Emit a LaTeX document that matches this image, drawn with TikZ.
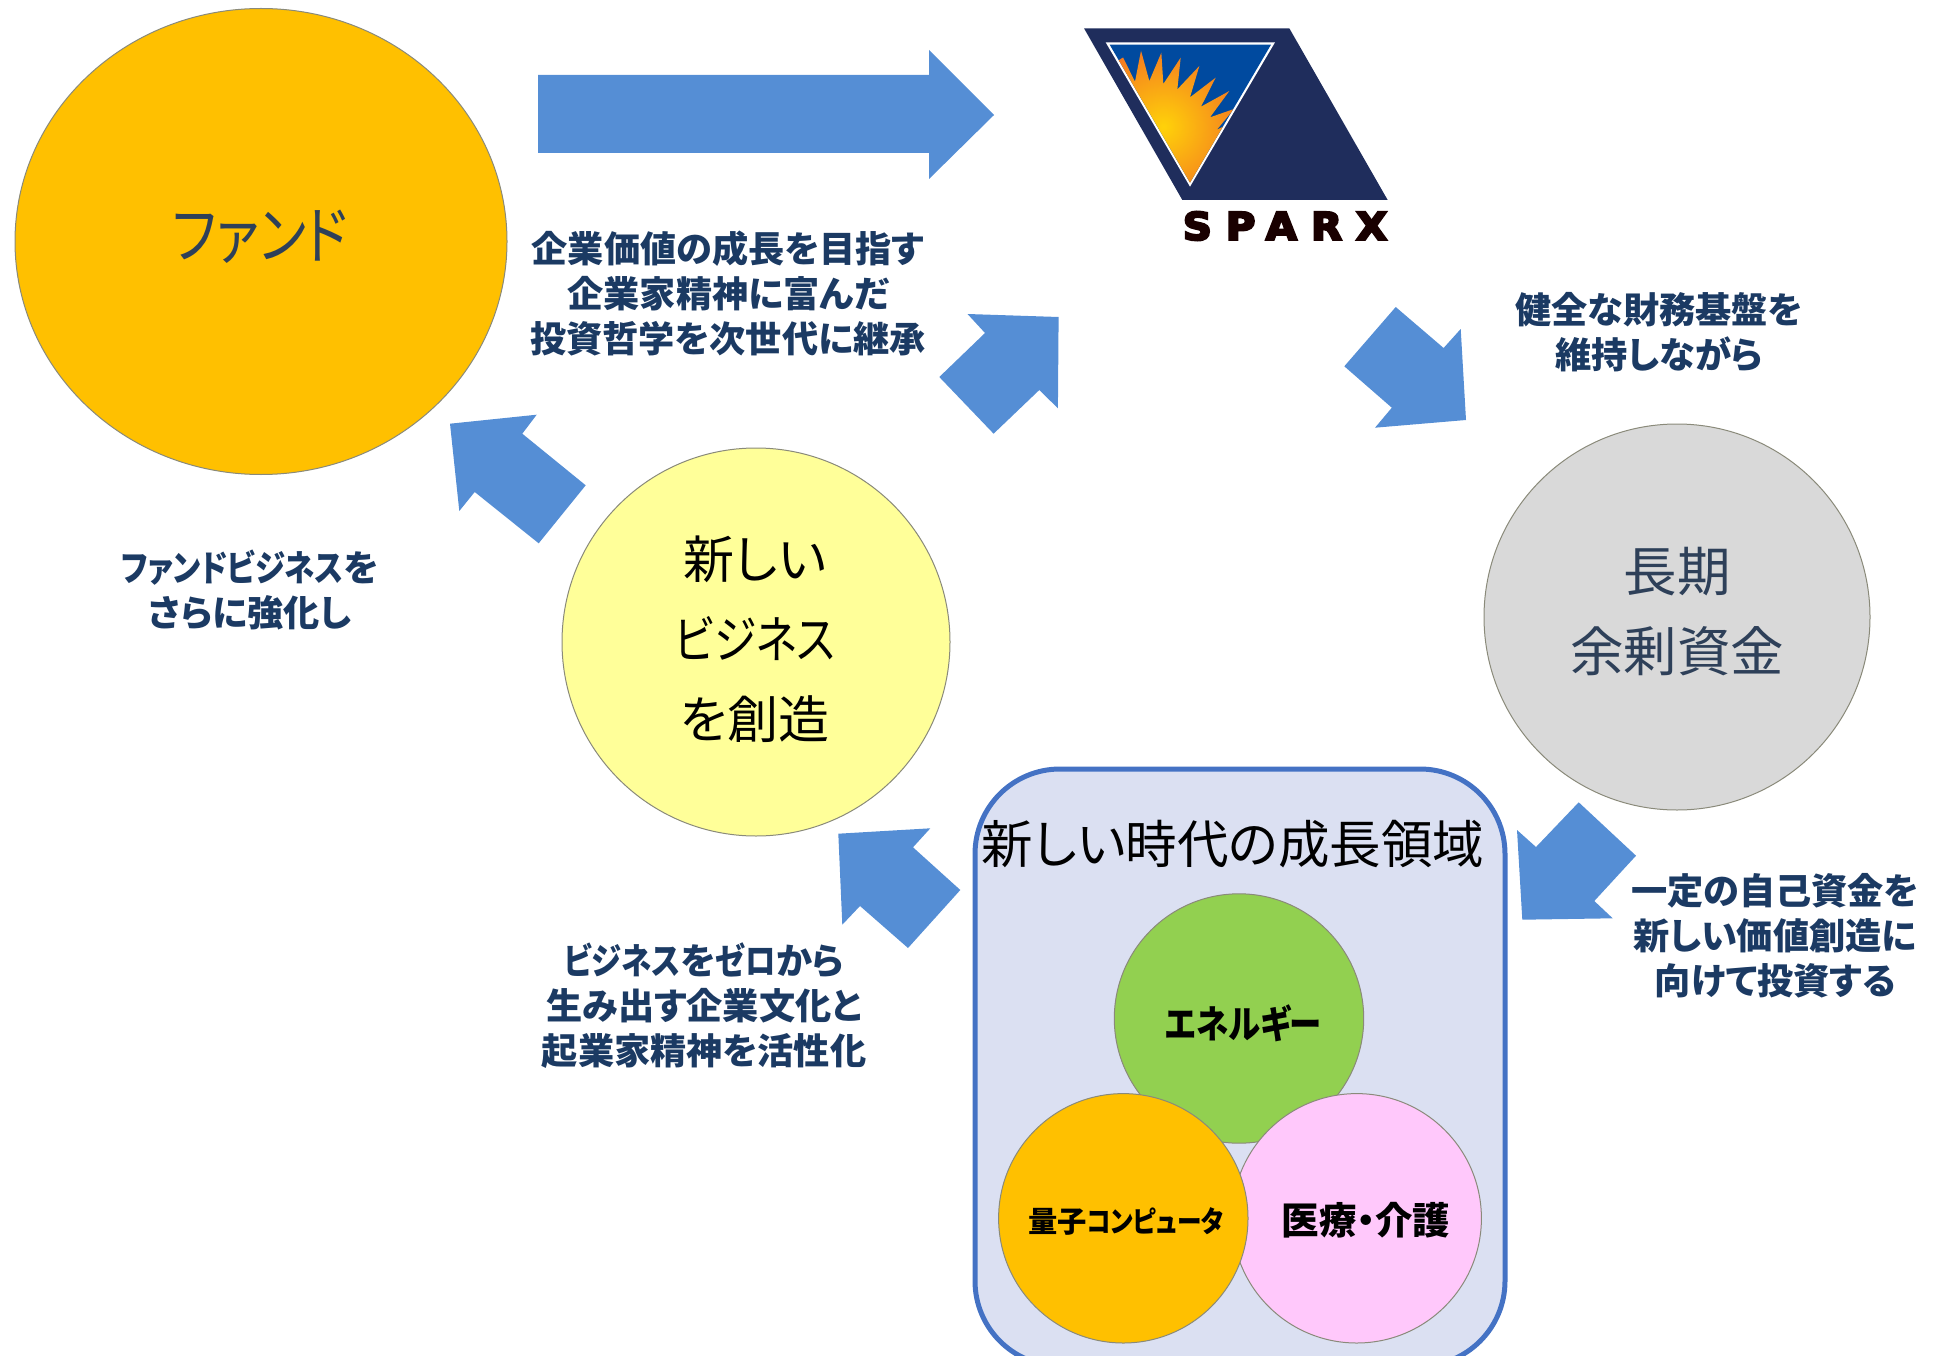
\documentclass[tikz,border=0pt]{standalone}
\usepackage{fontspec}
\newfontfamily\jp[RawFeature=+palt]{Noto Sans CJK JP}
\newfontfamily\jpn[RawFeature=+palt,FakeStretch=0.84]{Noto Sans CJK JP}
\newfontfamily\sparxfont[LetterSpace=37,FakeBold=6,FakeStretch=1.06]{DejaVu Sans Bold}
\definecolor{arrowblue}{HTML}{558ED5}
\definecolor{labelblue}{HTML}{1B3A63}
\definecolor{slate}{HTML}{2E4059}
\definecolor{logonavy}{HTML}{1F2D5C}
\definecolor{logoblue}{HTML}{004A9F}
\definecolor{boxfill}{HTML}{DBE0F2}
\definecolor{boxline}{HTML}{4472C4}
\definecolor{fundc}{HTML}{FFC000}
\definecolor{newc}{HTML}{FFFF99}
\definecolor{greyc}{HTML}{D9D9D9}
\definecolor{greenc}{HTML}{92D050}
\definecolor{pinkc}{HTML}{FFC8FB}
\definecolor{edgec}{HTML}{8A8A7A}
\definecolor{sunin}{HTML}{FFD209}
\definecolor{sunout}{HTML}{F47B20}
\newcommand{\fs}[2]{\fontsize{#1}{#2}\selectfont}
\newcommand{\kt}[1]{{\jpn #1}}
\tikzset{
  blockarrow/.style={fill=arrowblue,draw=none},
  bubble/.style={draw=edgec,line width=1pt},
  lab/.style={inner sep=0,align=center,text=labelblue,font=\jp\bfseries\fs{36.2}{45}},
  midtext/.style={inner sep=0,align=center,font=\jp},
  boldtext/.style={inner sep=0,align=center,font=\jp\bfseries},
}
\begin{document}
\begin{tikzpicture}[x=1pt,y=-1pt]
\useasboundingbox (0,0) rectangle (1937,1356);
\clip (0,0) rectangle (1937,1356);
% bubbles
\draw[bubble,fill=fundc] (261,241.5) ellipse [x radius=246,y radius=233];
\draw[bubble,fill=newc] (756,642) circle (194);
\draw[bubble,fill=greyc] (1677,617) circle (193);
% group box
\draw[draw=boxline,fill=boxfill,line width=5pt,rounded corners=85pt] (975,769) rectangle (1505,1366);
\draw[bubble,fill=greenc] (1239,1018.5) circle (124.7);
\draw[bubble,fill=pinkc] (1356.7,1218.3) circle (124.7);
\draw[bubble,fill=fundc] (1123.3,1218.3) circle (124.7);
% block arrows
\fill[blockarrow] (538,75) -- (929,75) -- (929,50) -- (994,115) -- (929,179) -- (929,153) -- (538,153) -- cycle;
\fill[blockarrow] (967.5,314) -- (1058.6,317) -- (1057.9,408.3) -- (1039.3,390) -- (993.6,433.7) -- (939.3,377) -- (985,333) -- cycle;
\fill[blockarrow] (1395.7,307) -- (1443.6,348) -- (1460.7,329) -- (1466,420) -- (1375,427.7) -- (1391.8,407.7) -- (1344.3,366.3) -- cycle;
\fill[blockarrow] (450,423.7) -- (536.7,414.7) -- (522.3,433.7) -- (585.7,485.3) -- (538.7,543.3) -- (474.7,492) -- (459.3,511) -- cycle;
\fill[blockarrow] (838.3,833.7) -- (930.3,828.3) -- (913,847.3) -- (960.3,890) -- (908,948) -- (860,906) -- (842.3,924.7) -- cycle;
\fill[blockarrow] (1517,830) -- (1536,847) -- (1578.7,802.3) -- (1636,855.7) -- (1594.3,901) -- (1612.7,918.3) -- (1522.3,919.7) -- cycle;
% logo
\begin{scope}[shift={(1060,10)},x=0.33333pt,y=-0.33333pt]
\fill[logonavy] (72,55) -- (688,55) -- (983,570) -- (367,570) -- cycle;
\fill[white] (137,97) -- (645,97) -- (390,530) -- cycle;
\fill[logoblue] (149,104) -- (633,104) -- (390,518) -- cycle;
\begin{scope}
\clip (149,104) -- (633,104) -- (390,518) -- cycle;
\clip (165,120) -- (182,128) -- (225,215) -- (243,122) -- (268,213) -- (304,128) -- (310,222) -- (362,143) -- (352,238) -- (418,168) -- (390,262) -- (467,203) -- (423,290) -- (508,243) -- (450,322) -- (522,297) -- (470,360) -- (498,345) -- (390,530) -- (150,110) -- cycle;
\shade[inner color=sunin,outer color=sunout] (310,350) circle (240);
\end{scope}
\end{scope}
\node[inner sep=0,anchor=center,text=black!90!red,font=\sparxfont\fs{38}{38}] (sparx) at (1285,226) {SPARX};
% bubble texts
\node[midtext,text=slate,font=\jpn\fs{63}{63}] (fund) at (260,237) {ファンド};
\node[midtext,text=black,font=\jp\fs{51}{80}] (newbiz) at (755,639) {新しい\\\kt{ビジネス}\\を創造};
\node[midtext,text=slate,font=\jp\fs{53.5}{80}] (longterm) at (1677,612) {長期\\余剰資金};
\node[midtext,text=black,font=\jp\fs{51.5}{52}] (areatitle) at (1233,844) {新しい時代の成長領域};
\node[boldtext,font=\jpn\bfseries\fs{38.5}{38}] (energy) at (1243.5,1023) {エネルギー};
\node[boldtext,font=\jp\bfseries\fs{29.3}{29}] (quantum) at (1126,1221) {量子\kt{コンピュータ}};
\node[boldtext,font=\jp\bfseries\fs{37.5}{38}] (medical) at (1366,1220) {医療・介護};
% labels
\node[lab] (l1) at (728,294) {企業価値の成長を目指す\\企業家精神に富んだ\\投資哲学を次世代に継承};
\node[lab] (l2) at (1659,332) {健全な財務基盤を\\維持しながら};
\node[lab] (l3) at (250,590) {\kt{ファンドビジネス}を\\さらに強化し};
\node[lab] (l4) at (1775,936) {一定の自己資金を\\新しい価値創造に\\向けて投資する};
\node[lab] (l5) at (704,1006) {\kt{ビジネス}を\kt{ゼロ}から\\生み出す企業文化と\\起業家精神を活性化};
\end{tikzpicture}
\end{document}
